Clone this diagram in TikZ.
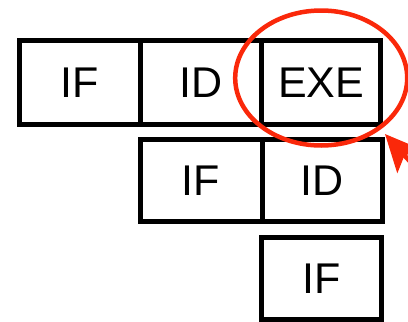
\documentclass[tikz,border=0pt]{standalone}
\usepackage{fontspec}
\setmainfont{Liberation Sans}
\usetikzlibrary{arrows.meta}
\definecolor{hilite}{RGB}{250,40,10}
\begin{document}
\begin{tikzpicture}[x=1pt,y=-1pt,
  stage/.style={draw=black, line width=5pt, rectangle, inner sep=0pt,
    font=\fontsize{43}{50}\selectfont},
  mark ring/.style={draw=hilite, line width=4.5pt},
  pointer/.style={draw=hilite, line width=4.5pt,
    -{Stealth[length=37pt,width=34pt,inset=8pt]}}]
  \useasboundingbox (0,0) rectangle (408,322);
  \clip (0,0) rectangle (408,322);
  % first instruction
  \node[stage, minimum width=121pt, minimum height=84pt] (if1) at (80,82.5) {IF};
  \node[stage, minimum width=121.5pt, minimum height=84pt] (id1) at (201.2,82.5) {ID};
  \node[stage, minimum width=118.5pt, minimum height=84pt] (exe1) at (321.2,82.5) {EXE};
  % second instruction
  \node[stage, minimum width=122pt, minimum height=82.5pt] (if2) at (201,180.7) {IF};
  \node[stage, minimum width=120pt, minimum height=82.5pt] (id2) at (322,180.7) {ID};
  % third instruction
  \node[stage, minimum width=120pt, minimum height=82pt] (if3) at (321.5,278.5) {IF};
  % highlight on the execute stage
  \draw[mark ring] (exe1.center) ++(0,-4.5) ellipse [x radius=86, y radius=67.5];
  \coordinate (tail) at (445,200);
  \coordinate (tip) at (385,134);
  \draw[pointer] (tail) -- (tip);
\end{tikzpicture}
\end{document}
